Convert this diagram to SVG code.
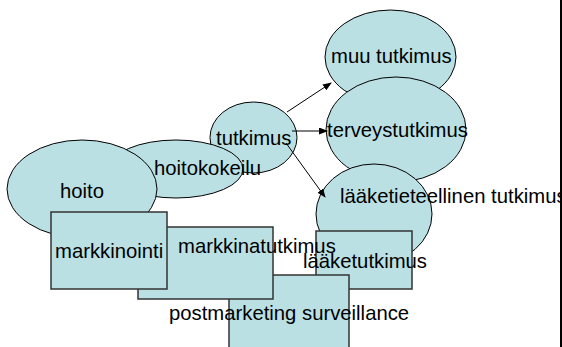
<svg xmlns="http://www.w3.org/2000/svg" width="562" height="347" viewBox="0 0 562 347">
<defs>
<style>
.e{fill:#BBE0E3;stroke:#000;stroke-width:1}
.b{fill:#BBE0E3;stroke:#333;stroke-width:1.5}
.t{font-family:"Liberation Sans",Arial,sans-serif;font-size:20.3px;fill:#000}
.c{stroke:#000;stroke-width:1;fill:none}
</style>
<marker id="ah" markerWidth="9" markerHeight="7" refX="8" refY="3.5" orient="auto" markerUnits="userSpaceOnUse">
<path d="M0,0 L9,3.5 L0,7 Z" fill="#000"/>
</marker>
</defs>
<rect width="562" height="347" fill="#fff"/>
<g id="tutkimus"><ellipse class="e" cx="253.5" cy="137.5" rx="43.5" ry="35.5"/><text class="t" x="216" y="145">tutkimus</text></g>
<g id="hoitokokeilu"><ellipse class="e" cx="176" cy="169" rx="67" ry="29"/><text class="t" x="154" y="175">hoitokokeilu</text></g>
<g id="hoito"><ellipse class="e" cx="82" cy="189" rx="75" ry="49"/><text class="t" x="60" y="198">hoito</text></g>
<g id="muu"><ellipse class="e" cx="390.5" cy="57" rx="65.5" ry="47"/><text class="t" x="331" y="63">muu tutkimus</text></g>
<g id="terveys"><ellipse class="e" cx="396" cy="129.5" rx="70" ry="52.5"/><text class="t" x="327" y="137">terveystutkimus</text></g>
<g id="laaketieteellinen"><ellipse class="e" cx="374" cy="214" rx="58" ry="50"/><text class="t" x="340" y="203">lääketieteellinen tutkimus</text></g>
<g id="laaketutkimus"><rect class="b" x="316" y="231" width="96" height="58"/><text class="t" x="303" y="268">lääketutkimus</text></g>
<g id="postmarketing"><rect class="b" x="229" y="275" width="120" height="80"/><text class="t" x="169" y="320">postmarketing surveillance</text></g>
<g id="markkinatutkimus"><rect class="b" x="138" y="227" width="135" height="72"/><text class="t" x="178" y="253">markkinatutkimus</text></g>
<g id="markkinointi"><rect class="b" x="51" y="212" width="116" height="77"/><text class="t" x="55" y="258">markkinointi</text></g>
<g id="connectors">
<line class="c" x1="287" y1="112" x2="331" y2="83" marker-end="url(#ah)"/>
<line class="c" x1="292" y1="131" x2="327" y2="131" marker-end="url(#ah)"/>
<line class="c" x1="286" y1="143" x2="325" y2="197" marker-end="url(#ah)"/>
</g>
<rect x="560" y="0" width="2" height="347" fill="#000"/>
</svg>
